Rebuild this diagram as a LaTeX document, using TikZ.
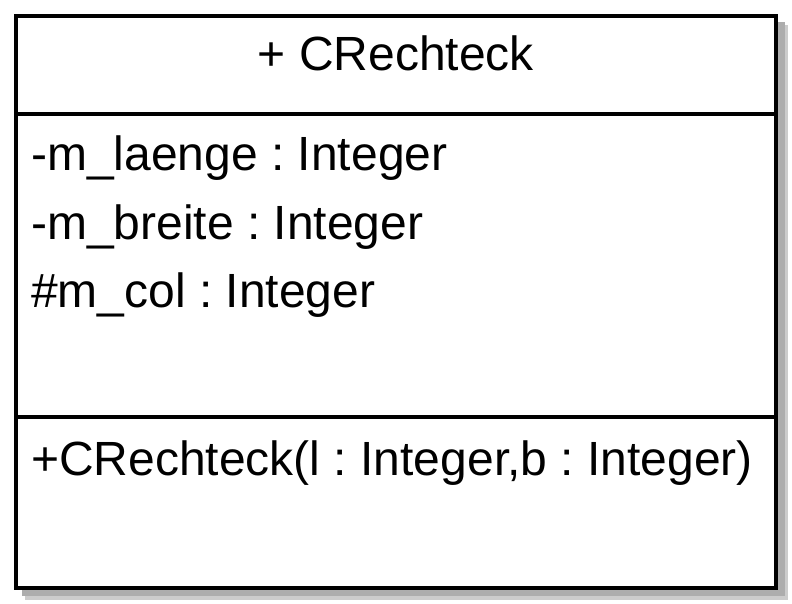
\documentclass[tikz,border=0pt]{standalone}
\usepackage{fontspec}
\setmainfont{Liberation Sans}
\begin{document}
\frenchspacing
\begin{tikzpicture}[x=1pt,y=-1pt,
  umltext/.style={inner sep=0pt,font=\fontsize{48}{58}\selectfont},
  classbox/.style={draw=black,line width=4pt,fill=white,inner sep=0pt,
    minimum width=760pt,minimum height=572pt},
  divider/.style={draw=black,line width=4pt}]
\useasboundingbox (0,0) rectangle (792,604);
% drop shadow behind the class box
\fill[black!20] (25,25) rectangle (788,600);
\fill[black!32] (22,22) rectangle (785,596);
% class box
\node[classbox] (cls) at (396,302) {};
\coordinate (d1) at (0,114);
\coordinate (d2) at (0,417);
\draw[divider] (cls.west |- d1) -- (cls.east |- d1);
\draw[divider] (cls.west |- d2) -- (cls.east |- d2);
% name compartment
\node[umltext,anchor=base] (name) at (396,71) {+ CRechteck};
% attributes
\node[umltext,anchor=base west] (a1) at (31,171) {-m\_laenge : Integer};
\node[umltext,anchor=base west] (a2) at (31,239) {-m\_breite : Integer};
\node[umltext,anchor=base west] (a3) at (31,307.5) {\#m\_col : Integer};
% operations
\node[umltext,anchor=base west] (o1) at (31,475) {+CRechteck(l : Integer,b : Integer)};
\end{tikzpicture}
\end{document}
